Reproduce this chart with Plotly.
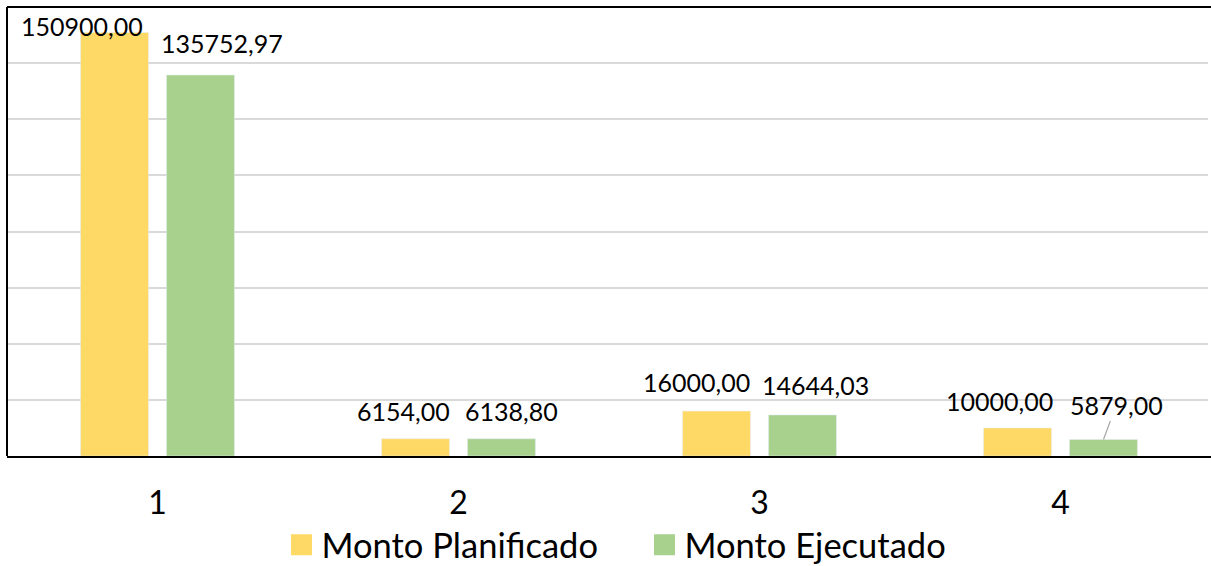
import plotly.graph_objects as go

# ---- data ----
categories = ["1", "2", "3", "4"]
planificado = [150900.00, 6154.00, 16000.00, 10000.00]
ejecutado = [135752.97, 6138.80, 14644.03, 5879.00]
series_names = ["Monto Planificado", "Monto Ejecutado"]

# ---- styles ----
colors = ["#FFD966", "#A9D18E"]
label_dx = [[-33, -12, -20, -18], [22, 10, 13, 13]]
label_dy = [[7, 28, 29, 27], [32, 28, 30, 35]]
leader = [[False, False, False, False], [False, False, False, True]]
BARGAP = 0.429
BARGROUPGAP = 0.209


def fmt(v):
    return f"{v:.2f}".replace(".", ",")


series = [planificado, ejecutado]
fig = go.Figure()
for name, vals, col in zip(series_names, series, colors):
    fig.add_trace(go.Bar(x=categories, y=vals, name=name, marker_color=col,
                         showlegend=False, hoverinfo="skip"))
# legend entries (larger square swatches)
for name, col in zip(series_names, colors):
    fig.add_trace(go.Scatter(x=[None], y=[None], mode="markers", name=name,
                             marker=dict(symbol="square", size=16, color=col,
                                         line=dict(width=5, color=col)),
                             showlegend=True))

off = (1 - BARGAP) / 4
annotations = []
for s, vals in enumerate(series):
    sign = -1 if s == 0 else 1
    for i, v in enumerate(vals):
        a = dict(x=i + sign * off, y=v, xref="x", yref="y", text=fmt(v),
                 font=dict(size=25, color="black", family="Lato"))
        if leader[s][i]:
            a.update(showarrow=True, arrowhead=0, arrowwidth=1.2,
                     arrowcolor="#A6A6A6", ax=label_dx[s][i], ay=-label_dy[s][i],
                     standoff=0)
        else:
            a.update(showarrow=False, xshift=label_dx[s][i], yshift=label_dy[s][i],
                     yanchor="middle", xanchor="center")
        annotations.append(a)

frame = dict(type="line", xref="paper", yref="paper", line=dict(color="black", width=2))
fig.update_layout(
    width=1211, height=566,
    margin=dict(l=7, r=0, t=7, b=110, autoexpand=False),
    paper_bgcolor="white", plot_bgcolor="white",
    barmode="group", bargap=BARGAP, bargroupgap=BARGROUPGAP,
    font=dict(family="Lato", color="black"),
    legend=dict(orientation="h", x=0.228, xanchor="left", y=-0.198,
                yanchor="middle", font=dict(size=34.5, color="black"),
                entrywidth=318, entrywidthmode="pixels"),
    annotations=annotations,
    shapes=[dict(frame, x0=0, x1=1, y0=1, y1=1),
            dict(frame, x0=0, x1=0, y0=0, y1=1),
            dict(type="line", xref="paper", yref="paper", x0=1, x1=1,
                 y0=0.006, y1=0.994, line=dict(color="white", width=6))],
)
fig.update_xaxes(type="category", showline=True, linecolor="black", linewidth=2,
                 mirror=False, ticks="outside", ticklen=18,
                 tickcolor="rgba(0,0,0,0)", tickfont=dict(size=32, color="black"),
                 showgrid=False)
fig.update_yaxes(range=[0, 160000], dtick=20000, showgrid=True,
                 gridcolor="#D9D9D9", gridwidth=1.5, showline=False, mirror=False,
                 showticklabels=False, zeroline=False, ticks="")

fig.write_html("out.html", config={"displayModeBar": False},
               post_script="document.body.style.margin='0';")
